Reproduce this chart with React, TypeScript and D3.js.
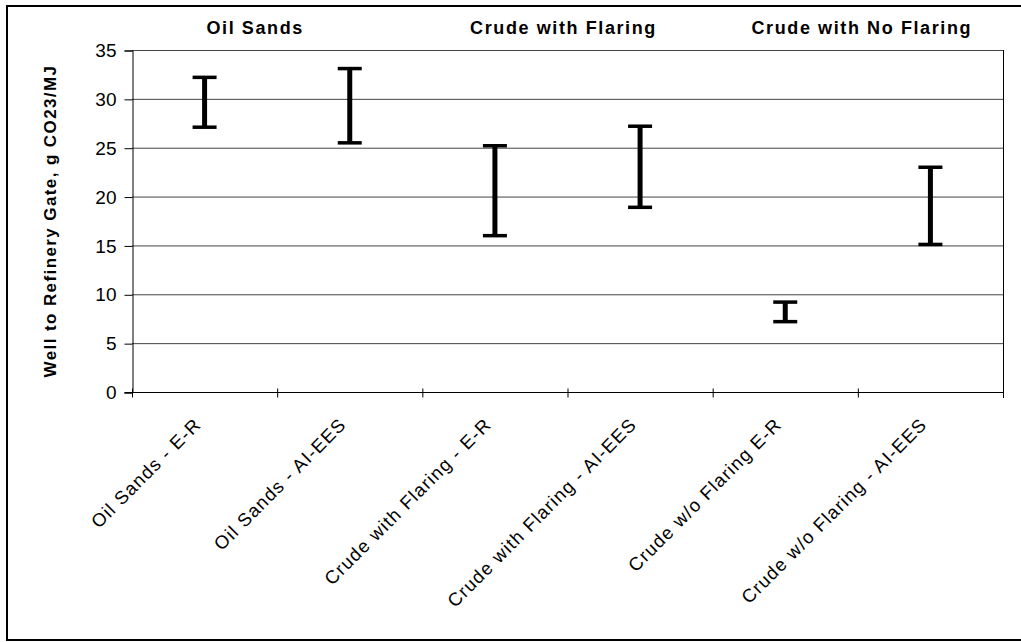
import React, { useEffect, useRef } from 'react';
import * as d3 from 'd3';

const categories = [
  'Oil Sands - E-R',
  'Oil Sands - AI-EES',
  'Crude with Flaring - E-R',
  'Crude with Flaring - AI-EES',
  'Crude w/o Flaring E-R',
  'Crude w/o Flaring - AI-EES',
];
const lowValues = [27.1, 25.5, 16.0, 18.9, 7.2, 15.1];
const highValues = [32.2, 33.1, 25.2, 27.2, 9.2, 23.0];
const groupTitles = ['Oil Sands', 'Crude with Flaring', 'Crude with No Flaring'];
const yTicks = [0, 5, 10, 15, 20, 25, 30, 35];

const W = 1021, H = 642;
const margin = { left: 132, right: 18, top: 50, bottom: 250 };

export default function App() {
  const ref = useRef<SVGSVGElement>(null);

  useEffect(() => {
    const svg = d3.select(ref.current);
    svg.selectAll('*').remove();

    const x = d3.scaleBand().domain(categories).range([margin.left, W - margin.right]);
    const y = d3.scaleLinear().domain([0, 35]).range([H - margin.bottom, margin.top]);
    const font = 'Arial, "Liberation Sans", sans-serif';

    // outer frame
    svg.append('rect')
      .attr('x', 7).attr('y', 6).attr('width', W + 10).attr('height', 634)
      .attr('fill', 'white').attr('stroke', '#000').attr('stroke-width', 2);

    // gridlines
    svg.append('g').selectAll('line')
      .data(yTicks.filter(d => d > 0))
      .enter().append('line')
      .attr('x1', margin.left).attr('x2', W - margin.right)
      .attr('y1', d => y(d) + 0.5).attr('y2', d => y(d) + 0.5)
      .attr('stroke', '#444').attr('stroke-width', 1);

    // plot frame right side
    svg.append('line')
      .attr('x1', W - margin.right + 0.5).attr('x2', W - margin.right + 0.5)
      .attr('y1', y(35)).attr('y2', y(0) + 6)
      .attr('stroke', '#000');

    // y axis
    const yAxis = svg.append('g')
      .attr('transform', `translate(${margin.left + 0.5},0.5)`)
      .call(d3.axisLeft(y).tickValues(yTicks).tickSize(8).tickPadding(8));
    yAxis.select('.domain').attr('stroke', '#000');
    yAxis.selectAll('text').attr('font-size', 19).attr('font-family', font).attr('fill', '#000');

    // x axis
    const xAxis = svg.append('g').attr('transform', `translate(0.5,${y(0) + 0.5})`);
    xAxis.append('line')
      .attr('x1', margin.left - 8).attr('x2', W - margin.right)
      .attr('stroke', '#000');
    const bounds = d3.range(categories.length + 1).map(i => margin.left + i * x.bandwidth());
    xAxis.selectAll('line.tk').data(bounds).enter().append('line')
      .attr('class', 'tk')
      .attr('x1', d => d).attr('x2', d => d).attr('y1', -4).attr('y2', 5)
      .attr('stroke', '#000');
    xAxis.selectAll('text').data(categories).enter().append('text')
      .attr('transform', d => `translate(${x(d)! + x.bandwidth() / 2 - 12},${24}) rotate(-45)`)
      .attr('text-anchor', 'end')
      .attr('dy', '0.7em')
      .attr('font-size', 18.5).attr('letter-spacing', 1.2).attr('font-family', font)
      .text(d => d);

    // error bars
    const bars = svg.append('g').selectAll('g')
      .data(categories).enter().append('g')
      .attr('transform', d => `translate(${x(d)! + x.bandwidth() / 2},0)`);
    bars.append('line')
      .attr('y1', (d, i) => y(highValues[i])).attr('y2', (d, i) => y(lowValues[i]))
      .attr('stroke', '#000').attr('stroke-width', 5);
    bars.append('line')
      .attr('x1', -12).attr('x2', 12)
      .attr('y1', (d, i) => y(highValues[i])).attr('y2', (d, i) => y(highValues[i]))
      .attr('stroke', '#000').attr('stroke-width', 3.5);
    bars.append('line')
      .attr('x1', -12).attr('x2', 12)
      .attr('y1', (d, i) => y(lowValues[i])).attr('y2', (d, i) => y(lowValues[i]))
      .attr('stroke', '#000').attr('stroke-width', 3.5);

    // group titles
    const titleShift = [-22, -4, 4];
    svg.append('g').selectAll('text')
      .data(groupTitles).enter().append('text')
      .attr('x', (d, i) => margin.left + (2 * i + 1) * x.bandwidth() + titleShift[i])
      .attr('y', 34)
      .attr('text-anchor', 'middle')
      .attr('font-size', 18).attr('letter-spacing', 1.6).attr('font-weight', 'bold').attr('font-family', font)
      .text(d => d);

    // y title
    svg.append('text')
      .attr('transform', `translate(56,${(y(0) + y(35)) / 2}) rotate(-90)`)
      .attr('text-anchor', 'middle')
      .attr('font-size', 17).attr('letter-spacing', 1.4).attr('font-weight', 'bold').attr('font-family', font)
      .text('Well to Refinery Gate, g CO23/MJ');
  }, []);

  return (
    <svg ref={ref} width={W} height={H} style={{ position: 'absolute', left: 0, top: 0 }} />
  );
}
